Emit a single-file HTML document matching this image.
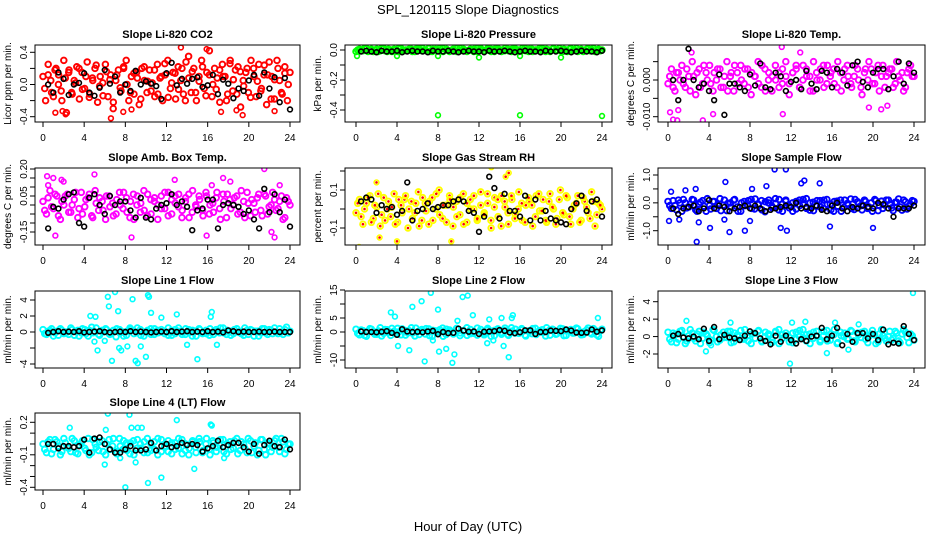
<!DOCTYPE html>
<html><head><meta charset="utf-8"><style>
body{margin:0;background:#fff;}
svg{display:block;font-family:"Liberation Sans",sans-serif;}
</style></head><body>
<svg id="chart" width="936" height="540" viewBox="0 0 936 540" xmlns="http://www.w3.org/2000/svg">
<rect width="936" height="540" fill="#fff"/>
<text x="468" y="14" font-size="13" text-anchor="middle">SPL_120115  Slope Diagnostics</text>
<text x="468" y="531" font-size="13" text-anchor="middle">Hour of Day (UTC)</text>
</svg>
<script>
// ---- data ----
const xTicks = [0,4,8,12,16,20,24];
const panelTitles = ["Slope Li-820 CO2","Slope Li-820 Pressure","Slope Li-820 Temp.","Slope Amb. Box Temp.","Slope Gas Stream RH","Slope Sample Flow","Slope Line 1 Flow","Slope Line 2 Flow","Slope Line 3 Flow","Slope Line 4 (LT) Flow"];
const yTitles = ["Licor ppm per min.","kPa per min.","degrees C per min.","degrees C per min.","percent per min.","ml/min per min.","ml/min per min.","ml/min per min.","ml/min per min.","ml/min per min."];

const co2Color = [.1,-.2,.25,.05,-.15,.2,.12,-.08,.3,-.35,.18,-.1,.05,.22,-.18,.15,-.05,.28,-.12,.08,.2,-.22,.1,.02,.25,-.15,.12,-.3,.05,.18,-.08,.22,.3,-.2,.1,-.12,.15,-.25,.2,.05,-.1,.18,.02,-.15,.25,.08,-.2,.12,.3,-.05,.15,-.18,.22,.05,-.12,.28,.35,-.1,.2,-.2,.1,.3,-.05,.15,.42,-.15,.2,.08,-.22,.25,.1,-.12,.3,-.08,.18,.22,-.28,.05,.15,-.1,.3,.2,-.15,.25,-.05,.12,-.25,.28,.1,-.18,.3,.05,-.12,.22,-.2,.15];
const co2ColorB = [-.05,.12,-.1,.18,.0,-.2,.08,.15,-.12,.02,.2,-.06,.1,-.16,.05,.24,-.02,-.14,.16,.06,-.22,.12,-.04,.2,.0,-.1,.14,.08,-.18,.22,.04,-.08,.18,-.12,.1,.26,-.16,.02,.14,-.06,.2,-.2,.08,.16,-.1,.04,.22,-.14,.12,.0,-.06,.18,.1,-.2,.26,.06,-.12,.16,-.02,.2,-.16,.1,.04,-.08,.24,.12,-.18,.06,.2,-.1,.14,.0];
const co2Black = [0,-.1,.15,.07,-.13,0,.02,.14,-.1,-.14,-.04,.18,.01,.1,-.1,0,-.08,.17,0,.04,.01,-.02,-.18,.14,.27,-.01,.07,.01,.07,.09,-.03,-.01,.12,-.12,.06,.01,-.17,-.05,-.08,.05,.12,-.14,.15,-.05,.09,-.22,.08,-.31];
const co2OutHours = [1.2,1.9,2.2,6.6,7.8,8.6,13.4,15.9,17.3,18.8,19.4,22.5];
const co2OutVals = [-.35,-.33,-.37,-.42,-.34,-.31,.46,.44,-.34,-.32,-.38,-.33];

const presColor = [-.01,.005,-.005,.01,0,-.01,.005,-.005,.01,-.01,0,.005,-.01,.01,-.005,0,.005,-.01,.01,-.005,0,.01,-.01,.005,-.005,.01,0,-.01,.005,-.01,.01,0,-.005,.005,-.01,.01,0,-.005,.01,-.01,.005,0,-.01,.01,-.005,.005,0,-.01,.01,-.005,.005,-.01,0,.01,-.005,.005,-.01,.01,0,-.005,.005,-.01,.01,0,-.01,.005,-.005,.01,0,-.01,.005,0];
const presColorB = [0,-.005,.01,-.01,.005,0,-.01,.01,-.005,.005,-.01,0,.01,-.005,0,.005,-.01,.005,0,.01,-.005,-.01,.005,0,.01,-.01,.005,-.005,0,.01,-.005,.005,-.01,0,.005,-.01,.01,-.005,0,.005,-.01,.01,0,-.005,.005,-.01,.01,0,-.005,.01,-.01,.005,0,-.005,.01,-.01,0,.005,-.005,.01,-.01,0,.005,-.005,.01,0,-.01,.005,-.005,.01,0,-.005];
const presBlack = [-.01,-.005,-.01,-.015,-.005,-.01,-.01,-.005,-.015,-.01,-.005,-.01,-.01,-.015,-.005,-.01,-.01,-.005,-.01,-.015,-.01,-.005,-.01,-.01,-.015,-.005,-.01,-.01,-.005,-.01,-.015,-.01,-.005,-.01,-.01,-.015,-.005,-.01,-.01,-.005,-.01,-.015,-.01,-.005,-.01,-.01,-.015,-.005];
const presOutHours = [0.1,4,8,12,16,20,8,16,24];
const presOutVals = [-.04,-.04,-.04,-.05,-.04,-.05,-.435,-.435,-.44];

const tempColor = [-.001,.003,-.003,.002,.004,-.002,.001,.005,-.004,.003,-.001,.002,.004,-.003,0,.003,-.002,.005,.001,-.003,.002,.004,-.001,.003,-.004,.001,.005,-.002,.003,0,-.003,.004,.002,-.001,.005,-.004,.002,.003,-.002,.004,.001,-.003,.005,0,.003,-.002,.004,.002,-.001,.005,-.003,.003,.001,-.002,.004,0,-.004,.003,.005,-.001,.002,-.003,.004,.001,.003,-.002,.005,0,-.003,.002,.004,.001];
const tempColorB = [.001,-.002,.002,.0,-.001,.003,-.003,.001,.002,-.002,.004,.0,-.001,.002,.003,-.002,.001,-.003,.002,.004,-.001,.0,.003,-.002,.002,.001,-.001,.004,-.003,.002,.001,.0,-.002,.003,.001,-.001,.002,.004,-.002,.0,.003,.001,-.003,.002,.0,.004,-.001,.001,.003,-.002,.002,.0,.004,-.001,.001,.003,-.002,.002,.0,.003,-.001,.004,.001,-.002,.002,.003,-.001,.001,.002,-.002,.003,.001];
const tempBlack = [0,-.0055,0,.0085,0,-.002,-.001,-.003,-.0055,.0015,-.0095,-.001,-.001,-.002,-.003,.0015,-.0015,.0045,-.002,-.0025,.002,.001,-.003,-.0005,0,-.0025,.0025,-.001,-.0025,.0025,.002,-.002,.003,.002,-.0015,.004,.005,-.0005,-.002,.002,.003,.003,-.0025,.001,.005,-.001,.0045,.002];
const tempOutHours = [0.2,0.5,0.9,1.0,3.4,4.4,11.2,19.6,20.8,21.4,11.1,12.9,2.3];
const tempOutVals = [-.0088,-.0108,-.011,-.0082,-.011,-.0093,-.0093,-.0075,-.008,-.007,.009,.0075,.0075];

const ambColor = [.02,-.05,.08,-.02,.05,-.08,0,.06,-.04,.03,-.07,.07,-.01,.04,-.06,.08,-.03,.02,-.08,.05,.01,-.05,.07,-.02,.04,-.07,.06,0,-.04,.08,-.06,.03,.02,-.08,.05,-.02,.07,-.05,.01,.06,-.03,.04,-.07,.08,-.01,.03,-.06,.05,0,-.04,.07,-.08,.02,.06,-.02,.04,-.05,.08,-.07,.01,.03,-.04,.06,-.06,.05,-.01,.07,-.03,.02,-.08,.04,0];
const ambColorB = [-.03,.04,-.01,.06,-.06,.02,.05,-.04,.0,.07,-.02,-.05,.03,.06,-.07,.01,.04,-.03,.05,-.01,-.06,.03,.0,.07,-.04,.02,-.08,.05,.01,-.03,.06,-.05,.04,.0,-.02,.07,-.06,.03,.05,-.01,-.07,.02,.06,-.04,.0,.05,-.03,.07,-.05,.01,.04,-.02,.06,-.07,.03,.0,.05,-.04,.02,.07,-.06,.01,.04,-.03,.06,-.05,.0,.03,-.02,.05,-.07,.02];
const ambBlack = [-.13,-.01,-.02,.03,.06,.07,-.1,-.12,.04,.06,0,-.05,.05,0,.02,.02,-.03,-.07,.04,-.07,-.08,-.02,0,.01,.06,0,.02,-.01,-.14,-.03,-.02,.03,.03,-.13,0,.01,0,-.01,-.05,-.03,-.08,-.13,.09,-.04,.06,-.04,.03,-.12];
const ambOutHours = [0.4,0.5,1.0,1.2,1.8,2.0,5.0,8.6,12.8,15.9,16.4,17.5,18.2,21.5,22.2,22.5,23.0];
const ambOutVals = [.16,.11,.15,-.17,.14,.13,.17,-.18,.14,-.17,.11,.15,.13,.2,-.15,-.18,.11];

const rhColor = [-.02,.05,-.08,.03,.07,-.05,.01,-.09,.06,0,-.04,.08,-.07,.02,.05,-.1,.04,-.02,.09,-.06,.03,-.08,.06,0,.1,-.05,.02,.07,-.09,.04,-.03,.08,-.07,.05,0,-.06,.09,-.02,.03,-.1,.06,-.04,.07,.01,-.08,.05,-.03,.09,-.06,.02,.04,-.09,.07,-.01,.05,-.07,.08,0,-.05,.1,-.03,.06,-.08,.02,.07,-.06,.04,-.02,.09,-.09,.03,0];
const rhColorB = [.03,-.04,.0,.06,-.07,.02,.08,-.03,-.06,.04,.01,-.08,.05,-.02,.07,.0,-.05,.03,-.09,.06,-.01,.04,-.06,.08,-.03,.02,-.07,.05,.01,-.04,.06,-.08,.03,.0,.07,-.05,.02,-.03,.08,-.06,.01,.05,-.09,.04,-.02,.07,-.05,.0,.03,-.07,.06,.02,-.04,.08,-.01,-.06,.04,.01,-.08,.05,-.02,.07,-.04,.0,.03,-.07,.06,.01,-.05,.04,-.03,.02];
const rhBlack = [.04,.06,.05,-.02,.02,0,.01,-.03,-.01,.14,-.06,-.01,0,.03,0,.01,.02,.02,.04,.05,.04,-.01,-.02,-.12,-.04,.17,.11,-.05,.08,-.01,-.01,-.04,.07,-.06,.05,-.06,-.01,-.05,-.06,-.07,-.08,0,.03,.07,-.01,.04,.05,-.04];
const rhOutHours = [0.3,2.0,2.3,4.0,9.3,13.2,14.9,14.6];
const rhOutVals = [-.2,.14,-.15,-.17,-.17,.22,.19,.17];

const flowColor = [.05,-.2,-.1,.1,-.3,0,-.15,.12,-.25,-.05,.08,-.3,-.1,.05,-.2,.15,-.08,-.28,0,.1,-.15,-.3,.05,-.1,.12,-.22,-.05,.08,-.32,0,-.12,.15,-.25,-.05,.1,-.18,-.3,.05,-.1,.12,-.2,0,-.28,.08,-.15,.1,-.05,-.25,.05,-.12,-.3,.1,-.08,-.2,.12,-.02,-.25,.05,-.15,-.3,.08,-.1,-.2,.1,-.05,-.28,.02,-.15,.1,-.22,-.05,.05];
const flowColorB = [-.1,.08,-.25,.0,.12,-.18,-.05,.1,-.3,.02,-.12,.15,-.22,.05,-.08,-.28,.1,-.02,-.15,.12,-.3,.0,-.1,.08,-.2,.14,-.06,-.25,.04,.1,-.18,-.02,.12,-.3,.06,-.1,.0,-.22,.1,-.05,.15,-.26,.02,-.12,.08,-.2,.12,-.04,-.3,.06,.1,-.16,-.02,.14,-.24,.04,-.1,.1,-.2,.0,.12,-.28,.06,-.08,.1,-.18,.02,.14,-.26,.04,-.12,.08];
const flowBlack = [-.2,-.4,-.2,-.15,-.1,-.3,-.2,.1,-.2,-.1,-.15,-.3,-.2,-.15,-.1,-.2,-.1,-.2,-.3,-.25,-.2,-.15,-.1,-.15,0,-.2,-.15,-.2,-.1,-.25,-.3,-.1,0,-.2,-.3,-.15,-.2,-.1,-.15,-.2,0,-.05,-.2,-.5,-.2,-.2,-.2,-.1];
const flowOutHours = [0.1,0.3,1.1,2.7,2.8,3.0,4.1,5.6,6.0,7.5,8.0,8.2,9.6,10.4,11.0,11.5,11.6,13.0,13.3,14.8,15.8,20.0,1.7,5.5];
const flowOutVals = [-.65,.4,-.6,.5,-1.4,-.7,-.9,.75,-1.05,-1.0,-.65,.5,.6,1.2,-.9,1.2,-1.0,.7,.8,.7,-.85,-.9,.45,-.6];

const line1Color = [.3,-.3,.2,-.5,.1,.4,-.2,0,.5,-.4,.2,-.1,.3,-.5,.6,0,-.3,.2,.4,-.2,.1,-.6,.3,0,-.4,.5,.2,-.1,.3,-.5,.1,.4,-.3,.2,0,-.2,.5,-.4,.3,.1,-.3,.4,-.1,.2,-.5,.3,0,-.2,.4,-.3,.1,.5,-.1,.2,-.4,.3,0,-.2,.5,-.3,.2,.1,-.5,.4,-.1,.3,-.2,0,.4,-.3,.6,.1];
const line1ColorB = [-.2,.1,.4,-.1,-.4,.2,.0,-.3,.3,.1,-.5,.4,-.2,.2,-.1,.5,-.4,.0,.3,-.3,.2,.4,-.1,-.5,.1,.3,-.2,.5,-.4,.0,.2,-.3,.4,-.1,.3,.1,-.4,.2,-.2,.5,.0,-.3,.3,-.5,.1,.4,-.2,.2,-.4,.0,.3,-.1,.5,-.3,.1,-.2,.4,.0,-.4,.2,.3,-.5,.1,-.1,.4,-.3,.2,.5,-.2,.0,.3,-.1];
const line1Black = [-.1,0,.1,0,.05,0,.1,-.05,0,.05,.1,0,-.05,0,.05,0,.1,0,.05,0,-.05,0,.05,0,.1,0,.05,.1,0,.05,0,.1,0,.05,-.05,.2,.1,0,.05,0,0,.05,0,0,.05,0,0,0];
const line1OutHours = [6.3,6.4,7.0,6.7,8.7,10.2,10.3,10.5,4.6,5.1,5.3,7.4,7.6,9.0,9.2,10.0,15.0,5.0,6.0,7.3,8.2,9.5,16.3,16.4,16.9,14.0,13.0,11.5];
const line1OutVals = [4.4,3.2,5,-3.6,4.1,4.6,4.4,2.4,2,1.9,-2.3,-2,-2.3,-3.6,-3.9,-3.1,-3.4,-1.2,-1.1,2.6,-1.8,-1.8,1.9,2.5,-1.6,-1.6,2.2,1.8];

const line2Color = [1,-1,.5,-1.5,1.2,0,-.8,1.5,-.5,.8,-1.2,.3,1.3,-1,.6,-.3,1.5,-1.4,.2,.9,-.7,1.1,-1.5,.4,0,1.4,-.9,.7,-.2,1.2,-1.3,.5,1.5,-.6,.1,-1.1,.9,-.4,1.3,-1.5,.6,.2,-.8,1.4,-1.2,.3,1,-.5,.8,-1.4,.1,1.2,-.9,.5,-.2,1.5,-1.1,.7,-.6,1.3,-1.3,.4,.9,-.3,1.1,-1,.2,1.4,-.7,.6,-1.5,1];
const line2ColorB = [-.5,.7,-1.2,.2,1,-.8,.4,-1.4,.9,-.2,1.3,-.6,.0,1.1,-1.1,.5,-.4,1.4,-.9,.3,1.2,-1.3,.6,-.1,.8,-1.5,1,.2,-.7,1.3,-.3,.5,-1.2,.9,-.5,1.4,.0,-1,.7,.3,-1.3,1.1,-.2,.6,-.9,1.5,-.4,.1,1.2,-1.1,.4,-.6,1.3,-.1,.8,-1.4,.5,1,-.8,.2,1.1,-1.2,.6,-.4,1.4,.0,-.9,.7,-.3,1.2,-1,.4];
const line2Black = [.2,0,0,-.1,.1,.3,-.3,-1,1,.2,0,.1,-.1,.2,.4,-.8,0,-.4,-.3,1.2,.5,.1,.2,-.7,.1,.2,.3,.7,.4,-.2,-.4,-.1,.6,.6,-.7,0,0,.5,.4,.3,.9,.5,-.2,-.3,-.2,.9,.1,.6];
const line2OutHours = [3.4,3.8,4.1,5.2,5.5,6.7,7.3,7.5,8.0,8.8,9.4,9.6,10.4,10.9,6.4,8.1,11.4,12.8,13.4,14.4,14.9,15.2,15.3,9.9,13.0,14.2,23.6];
const line2OutVals = [7,5.5,-5,-6.5,9,-10.5,14,-3,8,-6,-11,-8,12.5,13,11,-7,6,-4,-3,-5,-9,5,6,4,4.5,5,5];

const line3Color = [.5,-.6,.2,-.3,.7,-.8,.1,.4,-.5,.6,-.2,.3,-.7,.8,0,-.4,.5,-.1,.6,-.6,.2,.7,-.3,.1,-.8,.4,.6,-.5,0,.3,-.7,.5,.8,-.2,.1,-.6,.4,-.3,.7,-.1,.2,-.8,.5,0,-.4,.6,-.5,.3,.8,-.7,.1,.4,-.2,.6,-.6,.2,.5,-.3,0,.7,-.8,.3,.1,-.5,.6,-.2,.4,-.7,.8,-.1,.3,-.4];
const line3ColorB = [-.3,.4,-.7,.6,.0,-.5,.8,-.2,.3,-.8,.5,.1,-.4,.7,-.6,.2,-.1,.6,-.7,.4,.0,-.3,.8,-.5,.3,-.2,.7,-.6,.5,.1,-.4,.6,-.8,.2,.4,-.1,-.7,.5,.0,.8,-.5,.3,-.2,.6,-.6,.1,.7,-.4,.2,-.8,.5,.0,-.3,.7,-.5,.4,-.1,.6,-.7,.3,.2,-.6,.8,-.2,.0,-.4,.6,-.5,.3,.5,-.7,.1];
const line3Black = [.1,.3,-.1,-.2,0,-.3,.9,-.5,1.1,-.3,.2,-.1,-.2,-.4,.1,.6,.4,-.2,-.5,-.9,.1,-.6,.1,-.4,-.8,-.3,-.5,0,.1,1.0,-.3,.1,1.0,-1.0,.3,-.6,.4,.4,-.2,.3,-.4,.8,-.9,-.7,-.8,1.2,.3,-.4];
const line3OutHours = [1.8,3.7,4.2,6.1,11.9,12.1,13.4,15.5,16.3,17.6,18.6,23.9];
const line3OutVals = [1.8,-1.7,-1.0,1.6,-3.1,1.6,1.7,-1.9,1.6,-1.5,1.4,5.0];

const line4Color = [0,-.08,.04,-.05,.02,-.1,.05,-.03,-.07,.03,-.09,.01,-.04,.05,-.08,0,-.06,.03,-.1,.04,-.02,-.07,.05,-.05,.01,-.09,.03,-.04,0,-.08,.05,-.06,.02,-.1,.04,-.03,-.07,.01,-.05,.05,-.09,0,-.04,.03,-.08,.02,-.06,.05,-.1,.01,-.03,.04,-.07,0,-.05,.03,-.09,.02,-.04,.05,-.08,.01,-.06,.04,-.1,0,-.03,.05,-.07,.02,-.05,0];
const line4ColorB = [-.05,.02,-.09,.04,-.02,-.07,.01,-.04,.05,-.08,-.01,.03,-.06,-.1,.04,-.03,.02,-.07,.0,-.05,.05,-.09,-.02,.03,-.06,.01,-.1,.04,-.04,.02,-.08,.0,-.05,.05,-.07,-.02,.03,-.09,.01,-.04,.04,-.06,-.1,.02,-.03,.05,-.08,.0,-.05,.03,-.07,-.01,.04,-.09,.02,-.04,.05,-.06,.0,-.08,.03,-.02,-.1,.04,-.05,.01,-.07,.03,-.03,.05,-.09,.0];
const line4Black = [0,0,-.04,-.02,-.02,-.03,-.02,.04,-.08,.05,.06,0,-.05,-.08,-.08,-.05,-.02,-.06,-.06,-.05,.01,-.06,-.02,0,-.03,-.02,.01,-.01,0,-.01,-.07,-.04,-.02,.03,-.03,-.01,.01,.01,-.03,-.07,0,-.09,-.01,.03,-.02,-.03,.04,-.05];
const line4OutHours = [6.3,8.4,13.0,6.1,6.0,10.2,11.5,8.0,9.0,8.6,9.2,9.6,16.3,16.4,17.6,14.7,2.6,7.5];
const line4OutVals = [.28,.27,.22,.13,-.19,-.36,-.31,-.4,-.17,.15,.15,.15,.18,.17,-.13,-.23,.15,-.13];

const yTickVals = [[.4,.2,0,-.2,-.4],[0,-.1,-.2,-.3,-.4],[.005,0,-.005,-.01],[.2,.15,.1,.05,0,-.05,-.1,-.15],[.2,.1,0,-.1],[1,.5,0,-.5,-1],[4,2,0,-2,-4],[15,10,5,0,-5,-10],[4,2,0,-2],[.2,.1,0,-.1,-.2,-.3,-.4]];
const yTickLabels = [["0.4","","0.0","","-0.4"],["0.0","","-0.2","","-0.4"],["","0.000","","-0.010"],["0.20","","","0.05","","","","-0.15"],["","0.1","","-0.1"],["1.0","","0.0","","-1.0"],["4","2","0","","-4"],["15","","5","0","","-10"],["4","2","0","-2"],["0.2","","","-0.1","","","-0.4"]];

// ---- layout (not data) ----
const cols = [{l:35,r:300,x0:43,x24:290},{l:345,r:612,x0:356,x24:602},{l:658,r:925,x0:668,x24:914}];
const rows = [45,168,291,413];
const H = 77;
const yRefs = [[.4,52.3,-.4,116.7],[0,50,-.4,110],[0,80,-.01,116.7],[.2,169,-.15,232],[.1,190,-.1,228],[1,175,-1,230.7],[4,300,-4,364],[15,290,-10,360],[4,301.7,-2,354],[.2,422.3,-.4,487.3]];
const colors = ["#ff0000","#00ff00","#ff00ff","#ff00ff","#ffff00","#0000ff","#00ffff","#00ffff","#00ffff","#00ffff"];
const series = [
 [co2Color,co2ColorB,co2Black,co2OutHours,co2OutVals],[presColor,presColorB,presBlack,presOutHours,presOutVals],
 [tempColor,tempColorB,tempBlack,tempOutHours,tempOutVals],[ambColor,ambColorB,ambBlack,ambOutHours,ambOutVals],
 [rhColor,rhColorB,rhBlack,rhOutHours,rhOutVals],[flowColor,flowColorB,flowBlack,flowOutHours,flowOutVals],
 [line1Color,line1ColorB,line1Black,line1OutHours,line1OutVals],[line2Color,line2ColorB,line2Black,line2OutHours,line2OutVals],
 [line3Color,line3ColorB,line3Black,line3OutHours,line3OutVals],[line4Color,line4ColorB,line4Black,line4OutHours,line4OutVals]];

const NS = "http://www.w3.org/2000/svg";
const svg = document.getElementById('chart');
function mk(tag, attrs, parent){const e=document.createElementNS(NS,tag);for(const k in attrs)e.setAttribute(k,attrs[k]);(parent||svg).appendChild(e);return e;}

function pt(g, x, y, col, isRH, big){
  const c = mk('circle',{cx:x,cy:y,r:big?2.8:2.4,fill:'none',stroke:col,'stroke-width':big?1.9:1.6},g);
  
  
  if(isRH){
    const d = mk('circle',{cx:x,cy:y,r:1.3,fill:'#ff0000'},g);
    
    
  }
}

series.forEach((s, p) => {
  const col = cols[p % 3], top = rows[Math.floor(p / 3)], bot = top + H;
  const xS = h => col.x0 + (col.x24 - col.x0) * h / 24;
  const [v1, y1, v2, y2] = yRefs[p];
  const yS = v => y1 + (v - v1) * (y2 - y1) / (v2 - v1);
  const g = mk('g', {});
  
  
  const cp = mk('clipPath', {id: 'clip' + p}, g);
  mk('rect', {x: col.l, y: top, width: col.r - col.l, height: H}, cp);
  const pg = mk('g', {'clip-path': 'url(#clip' + p + ')'}, g);
  
  
  const isRH = p === 4;
  const [cv, cb, bv, oh, ov] = s;
  cv.forEach((v, i) => pt(pg, xS(i * 24 / (cv.length - 1)), yS(v), colors[p], isRH, true));
  cb.forEach((v, i) => pt(pg, xS((i + 0.5) * 24 / cb.length), yS(v), colors[p], isRH, true));
  oh.forEach((h, i) => pt(pg, xS(h), yS(ov[i]), colors[p], isRH, false));
  bv.forEach((v, i) => pt(pg, xS((i + 1) * 24 / bv.length), yS(v), '#000', false, false));
  const box = mk('rect', {x: col.l, y: top, width: col.r - col.l, height: H, fill: 'none', stroke: '#000', 'stroke-width': 1}, g);
  
  
  const t = mk('text', {x: (col.l + col.r) / 2, y: top - 7, 'font-size': 11, 'font-weight': 'bold', 'text-anchor': 'middle'}, g);
  t.textContent = panelTitles[p];
  
  
  xTicks.forEach(h => {
    const x = xS(h);
    mk('line', {x1: x, x2: x, y1: bot, y2: bot + 5, stroke: '#000'}, g);
    const tl = mk('text', {x: x, y: bot + 19, 'font-size': 10, 'text-anchor': 'middle'}, g);
    tl.textContent = h;
    
    
  });
  yTickVals[p].forEach((v, i) => {
    const y = yS(v);
    mk('line', {x1: col.l - 5, x2: col.l, y1: y, y2: y, stroke: '#000'}, g);
    const lab = yTickLabels[p][i];
    if (lab) {
      const yl = mk('text', {x: col.l - 8, y: y, 'font-size': 10, 'text-anchor': 'middle', transform: 'rotate(-90 ' + (col.l - 8) + ' ' + y + ')'}, g);
      yl.textContent = lab;
      
      
    }
  });
  const yc = top + H / 2, xt = col.l - 24;
  const yt = mk('text', {x: xt, y: yc, 'font-size': 10, 'text-anchor': 'middle', transform: 'rotate(-90 ' + xt + ' ' + yc + ')'}, g);
  yt.textContent = yTitles[p];
  
  
});
</script>
</body></html>
